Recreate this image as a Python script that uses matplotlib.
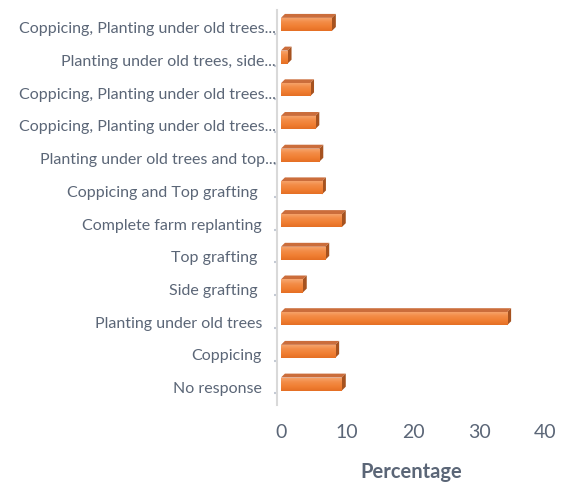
import numpy as np
import matplotlib.pyplot as plt
from matplotlib.patches import Polygon
from matplotlib.colors import LinearSegmentedColormap
import matplotlib.transforms as mtransforms

# 응답 항목 (아래에서 위 순서)
categories = [
    "No response",
    "Coppicing",
    "Planting under old trees",
    "Side grafting ",
    "Top grafting ",
    "Complete farm replanting",
    "Coppicing and Top grafting ",
    "Planting under old trees and top...",
    "Coppicing, Planting under old trees...",
    "Coppicing, Planting under old trees...",
    "Planting under old trees, side...",
    "Coppicing, Planting under old trees...",
]
percent = [9.2, 8.2, 34.2, 3.3, 6.7, 9.2, 6.2, 5.8, 5.2, 4.4, 1.0, 7.7]
xticks = [0, 10, 20, 30, 40]

plt.rcParams['font.family'] = ['Lato', 'DejaVu Sans']
text_color = '#5B6677'

fig = plt.figure(figsize=(5.64, 4.83), dpi=100)
ax = fig.add_axes([0.4911, 0.1615, 0.4761, 0.8178])

y = np.arange(len(categories))
h = 0.40      # 앞면 높이
dx = 0.6      # 3D 깊이 (x 방향)
dy = 0.12     # 3D 깊이 (y 방향)

# 앞면 그라데이션
grad_cmap = LinearSegmentedColormap.from_list(
    'front', ['#E56F24', '#F07F33', '#F38D48', '#F7A872'])
grad = np.linspace(0, 1, 64).reshape(-1, 1)

bars = ax.barh(y, percent, height=h, color='#EE7B2F', linewidth=0, zorder=2)
for bar, yi, v in zip(bars, y, percent):
    im = ax.imshow(grad, cmap=grad_cmap, origin='lower', aspect='auto',
                   extent=[0, v, yi - h / 2, yi + h / 2], zorder=3)
    im.set_clip_path(bar)
    # 윗면
    top = Polygon([(0, yi + h / 2), (v, yi + h / 2), (v + dx, yi + h / 2 + dy),
                   (dx, yi + h / 2 + dy)], closed=True,
                  facecolor='#CB6D3B', edgecolor='none', zorder=2)
    # 옆면
    side = Polygon([(v, yi - h / 2), (v, yi + h / 2), (v + dx, yi + h / 2 + dy),
                    (v + dx, yi - h / 2 + dy)], closed=True,
                   facecolor='#A6521F', edgecolor='none', zorder=2)
    ax.add_patch(top)
    ax.add_patch(side)

ax.set_xlim(-0.6, 40)
ax.set_ylim(-0.64, 11.44)

# 축 스타일
for s in ['top', 'right', 'bottom']:
    ax.spines[s].set_visible(False)
ax.spines['left'].set_color('#D9D9D9')
ax.spines['left'].set_linewidth(1.5)

ax.set_xticks(xticks)
ax.set_xticklabels([str(t) for t in xticks], fontsize=14, color=text_color)
ax.tick_params(axis='x', length=0, pad=14)
ax.set_xlabel('Percentage', fontsize=14.5, fontweight='bold', color=text_color,
              labelpad=15)

# 카테고리 라벨 (직접 배치)
ax.set_yticks(y - 0.28)
ax.set_yticklabels([])
ax.tick_params(axis='y', length=2, width=1.5, color='#C4CAD4')
for yi, label in zip(y, categories):
    shift = -1 if label.endswith('...') else -15
    trans = mtransforms.offset_copy(ax.get_yaxis_transform(), fig=fig,
                                    x=shift, y=-5, units='dots')
    ax.text(0, yi, label, transform=trans, ha='right', va='center',
            fontsize=11.5, color=text_color)

fig.savefig('out.png', dpi=100)
